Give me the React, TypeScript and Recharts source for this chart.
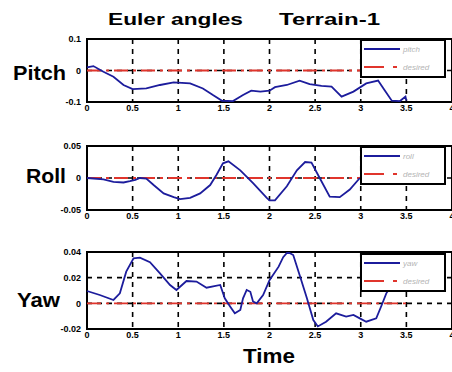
import React from 'react'
import { LineChart, Line, XAxis, YAxis, CartesianGrid, ReferenceArea, Legend } from 'recharts'

const FONT = '"Liberation Sans", Arial, sans-serif'
const BLUE = '#1c1c9c'
const RED = '#e0352c'

const X_TICKS = [0, 0.5, 1, 1.5, 2, 2.5, 3, 3.5, 4]
const DESIRED_TIME = [0, 3.5]
const DESIRED_VALUES = [0, 0]

const pitchTime = [0, 0.07, 0.18, 0.29, 0.4, 0.5, 0.65, 0.8, 0.95, 1.13, 1.27, 1.38, 1.48, 1.6, 1.71, 1.8, 1.9, 2.0, 2.06, 2.19, 2.33, 2.44, 2.57, 2.68, 2.79, 2.92, 3.06, 3.19, 3.26, 3.34, 3.43, 3.49, 3.5]
const pitchValues = [0.01, 0.014, -0.004, -0.02, -0.046, -0.059, -0.057, -0.046, -0.038, -0.041, -0.057, -0.078, -0.096, -0.097, -0.078, -0.064, -0.067, -0.064, -0.053, -0.046, -0.032, -0.043, -0.049, -0.051, -0.083, -0.067, -0.041, -0.032, -0.062, -0.096, -0.097, -0.083, -0.095]
const pitchTicks = [-0.1, 0, 0.1]

const rollTime = [0, 0.18, 0.29, 0.4, 0.47, 0.53, 0.58, 0.65, 0.73, 0.84, 0.95, 1.02, 1.13, 1.24, 1.35, 1.42, 1.49, 1.55, 1.68, 1.82, 1.97, 2.0, 2.06, 2.19, 2.3, 2.39, 2.46, 2.55, 2.66, 2.77, 2.88, 2.99]
const rollValues = [0, -0.002, -0.006, -0.007, -0.005, -0.003, 0, -0.001, -0.011, -0.024, -0.03, -0.033, -0.031, -0.024, -0.011, 0.005, 0.023, 0.026, 0.012, -0.008, -0.031, -0.035, -0.035, -0.013, 0.012, 0.025, 0.024, 0, -0.029, -0.03, -0.018, 0]
const rollTicks = [-0.05, 0, 0.05]

const yawTime = [0, 0.14, 0.29, 0.36, 0.43, 0.51, 0.58, 0.69, 0.8, 0.91, 0.98, 1.09, 1.2, 1.31, 1.46, 1.51, 1.57, 1.62, 1.68, 1.71, 1.75, 1.79, 1.82, 1.86, 1.93, 2.0, 2.1, 2.15, 2.2, 2.26, 2.33, 2.41, 2.48, 2.53, 2.62, 2.73, 2.84, 2.92, 2.99, 3.06, 3.17, 3.23, 3.28, 3.32]
const yawValues = [0.0096, 0.0065, 0.0026, 0.0078, 0.0247, 0.035, 0.0356, 0.032, 0.0233, 0.0143, 0.0104, 0.0174, 0.017, 0.0122, 0.0143, 0.0039, -0.0026, -0.0078, -0.0052, 0.0039, 0.0104, 0.009, 0.0013, 0, 0.0065, 0.018, 0.0286, 0.036, 0.04, 0.0376, 0.022, 0.0039, -0.013, -0.018, -0.0143, -0.0078, -0.0104, -0.009, -0.0117, -0.0143, -0.0117, -0.0013, 0.0078, 0.012]
const yawTicks = [-0.02, 0, 0.02, 0.04]

const toRows = (time, values) => time.map((t, i) => ({ t, v: values[i] }))

const tickStyle = { fontSize: 9, fontWeight: 700, fill: '#000', fontFamily: FONT }

const LegendBox = ({ name }) => (
  <div
    style={{
      width: 86,
      height: 39,
      boxSizing: 'border-box',
      border: '2px solid #000',
      background: '#fff',
    }}
  >
    <svg width={82} height={35} style={{ display: 'block' }}>
      <line x1={2} x2={38} y1={8} y2={8} stroke={BLUE} strokeWidth={1.8} />
      <line x1={2} x2={38} y1={26} y2={26} stroke={RED} strokeWidth={1.8} strokeDasharray="20 9 4 9" />
      <text x={41} y={11} fontSize={8} fill="#b4b4b4" fontFamily={FONT} fontStyle="italic">{name}</text>
      <text x={41} y={29} fontSize={8} fill="#b4b4b4" fontFamily={FONT} fontStyle="italic">desired</text>
    </svg>
  </div>
)

const SubPlot = ({ name, time, values, ticks, top, marginTop, plotHeight, legendTop }) => {
  const data = toRows(time, values)
  const desired = toRows(DESIRED_TIME, DESIRED_VALUES)
  const yMin = ticks[0]
  const yMax = ticks[ticks.length - 1]
  return (
    <div style={{ position: 'absolute', left: 0, top }}>
      <LineChart
        width={460}
        height={marginTop + plotHeight + 20}
        data={data}
        margin={{ top: marginTop, right: 8, bottom: 0, left: 47 }}
      >
        <CartesianGrid stroke="#000" strokeDasharray="5 5" strokeWidth={1.6} />
        <XAxis
          dataKey="t"
          type="number"
          domain={[0, 4]}
          ticks={X_TICKS}
          height={20}
          axisLine={false}
          tickLine={false}
          tickSize={0}
          tickMargin={3}
          tick={tickStyle}
          interval={0}
        />
        <YAxis
          type="number"
          domain={[yMin, yMax]}
          ticks={ticks}
          width={40}
          axisLine={false}
          tickLine={false}
          tickSize={0}
          tickMargin={6}
          tick={tickStyle}
          interval={0}
          allowDataOverflow
        />
        <Line
          data={desired}
          dataKey="v"
          name="desired"
          stroke={RED}
          strokeWidth={1.8}
          strokeDasharray="14 5 3 5"
          dot={false}
          isAnimationActive={false}
        />
        <Line
          dataKey="v"
          name={name}
          stroke={BLUE}
          strokeWidth={1.8}
          dot={false}
          isAnimationActive={false}
        />
        <ReferenceArea
          x1={0}
          x2={4}
          y1={yMin}
          y2={yMax}
          fill="none"
          fillOpacity={0}
          stroke="#000"
          strokeWidth={2}
          ifOverflow="visible"
        />
        <Legend
          layout="vertical"
          align="center"
          verticalAlign="middle"
          wrapperStyle={{ left: 360, top: legendTop, width: 86 }}
          content={() => <LegendBox name={name} />}
        />
      </LineChart>
    </div>
  )
}

const Caption = ({ x, y, len, size, children }) => (
  <text
    x={x}
    y={y}
    fontSize={size}
    fontWeight={700}
    fontFamily={FONT}
    fill="#000"
    textLength={len}
    lengthAdjust="spacingAndGlyphs"
  >
    {children}
  </text>
)

export default function App() {
  return (
    <div style={{ position: 'absolute', left: 0, top: 0, width: 452, height: 372, background: '#fff', overflow: 'hidden' }}>
      <SubPlot name="pitch" time={pitchTime} values={pitchValues} ticks={pitchTicks} top={0} marginTop={39} plotHeight={63} legendTop={39} />
      <SubPlot name="roll" time={rollTime} values={rollValues} ticks={rollTicks} top={120} marginTop={26} plotHeight={64} legendTop={26} />
      <SubPlot name="yaw" time={yawTime} values={yawValues} ticks={yawTicks} top={240} marginTop={12} plotHeight={77} legendTop={13} />
      <svg width={452} height={372} style={{ position: 'absolute', left: 0, top: 0, pointerEvents: 'none' }}>
        <Caption x={108} y={25} len={135} size={17}>Euler angles</Caption>
        <Caption x={279} y={25} len={101} size={17}>Terrain-1</Caption>
        <Caption x={13} y={80} len={53} size={20}>Pitch</Caption>
        <Caption x={26} y={183} len={40} size={20}>Roll</Caption>
        <Caption x={17} y={307} len={43} size={20}>Yaw</Caption>
        <Caption x={243} y={363} len={52} size={20}>Time</Caption>
      </svg>
    </div>
  )
}
